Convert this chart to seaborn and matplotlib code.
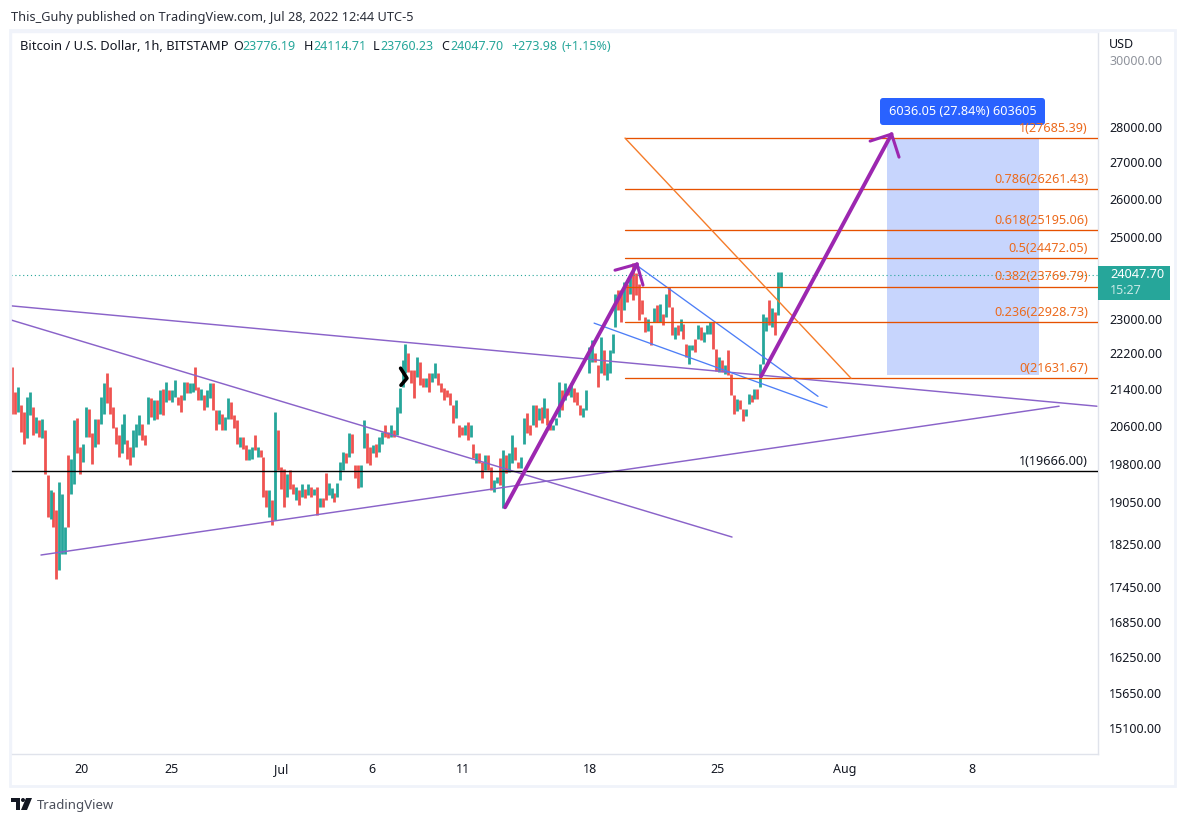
#!/usr/bin/env python3
import numpy as np
import pandas as pd
import matplotlib
matplotlib.use("Agg")
import matplotlib.pyplot as plt
import seaborn as sns
from matplotlib.patches import FancyBboxPatch, Polygon, Rectangle, Circle

# 261 bars, about one every 4 hours
highs = [
    21890, 21335, 21445, 21040, 20895, 21225, 21335, 21005, 20790, 20720,
    20755, 20510, 19580, 19280, 19250, 18885, 19445, 19215, 18570, 19990,
    19920, 20720, 20775, 20160, 20230, 21005, 20970, 20440, 20755, 20755,
    21225, 21520, 21740, 21445, 21005, 20580, 20405, 20650, 20860, 20300,
    20160, 20510, 20650, 20825, 20650, 20405, 21225, 21190, 21150, 21150,
    21370, 21405, 21555, 21370, 21370, 21590, 21225, 21265, 21555, 21555,
    21520, 21520, 21890, 21445, 21405, 21265, 21370, 21535, 21520, 20935,
    20935, 20860, 20790, 21190, 21115, 20825, 20720, 20370, 20370, 20195,
    20125, 20160, 20405, 20160, 20090, 19955, 19280, 19280, 19085, 20895,
    20510, 19750, 19715, 19610, 19680, 19415, 19350, 19280, 19415, 19315,
    19415, 19350, 19315, 19350, 19120, 19120, 19620, 19420, 19320, 19220,
    19420, 19855, 20060, 20025, 20440, 20425, 19790, 19790, 19790, 20725,
    20440, 20165, 20195, 20230, 20370, 20475, 20620, 20475, 20620, 20510,
    21010, 21410, 22040, 22405, 22190, 21815, 21815, 22115, 22005, 21630,
    21630, 21740, 21740, 21965, 21740, 21520, 21410, 21370, 21300, 21045,
    21155, 20620, 20580, 20620, 20690, 20620, 20230, 20025, 20025, 19855,
    19990, 19990, 19755, 19485, 19555, 19925, 20095, 19990, 20025, 20405,
    20165, 19855, 19955, 20760, 20865, 20620, 21045, 21045, 20975, 21010,
    21190, 20975, 20725, 20620, 20760, 21555, 21370, 21520, 21370, 21520,
    21410, 21335, 21045, 20975, 21370, 22345, 22500, 22190, 21930, 22575,
    22270, 21965, 22270, 22650, 23600, 23680, 23680, 23880, 23840, 24050,
    24340, 24090, 23840, 23435, 23035, 23000, 22840, 23240, 23320, 23355,
    23115, 23600, 23760, 23280, 22800, 22840, 23000, 22880, 22415, 22375,
    22375, 22530, 22840, 22800, 22685, 22840, 22920, 22920, 22300, 22110,
    22035, 21920, 22260, 21735, 21255, 21180, 21145, 20960, 20960, 21290,
    21255, 21400, 21400, 21960, 23115, 23035, 23435, 23240, 23160, 24130,
    24115,
]
lows = [
    20860, 20860, 20895, 20475, 20230, 20335, 20825, 20405, 20440, 20370,
    20335, 19610, 18760, 18725, 18570, 17610, 17760, 18065, 18065, 18570,
    19215, 19415, 20025, 19610, 19850, 20370, 20370, 19815, 20160, 20230,
    20650, 20860, 21080, 20860, 20545, 20230, 19955, 20025, 20230, 19920,
    19780, 19955, 20160, 20405, 20300, 20195, 20650, 20790, 20720, 20755,
    20860, 20825, 21115, 21150, 21115, 21225, 21040, 20895, 21150, 21300,
    21300, 21335, 21370, 21150, 21150, 20935, 21005, 21190, 20935, 20510,
    20650, 20510, 20510, 20755, 20755, 20545, 20230, 20160, 20125, 19885,
    19885, 19920, 20090, 19955, 19955, 19150, 18950, 18760, 18600, 18695,
    19680, 19315, 18950, 19150, 19315, 19215, 19085, 18985, 19150, 19120,
    19185, 19150, 19185, 18790, 18960, 18960, 19090, 19185, 19120, 19055,
    19155, 19485, 19690, 19820, 19955, 20025, 19520, 19320, 19350, 20130,
    19820, 19790, 20025, 19955, 20060, 20230, 20370, 20335, 20370, 20370,
    20405, 20865, 21445, 21740, 21780, 21520, 21190, 21665, 21480, 21445,
    21445, 21335, 21555, 21630, 21480, 21335, 21155, 21225, 21045, 20655,
    20760, 20370, 20405, 20405, 20300, 20370, 19925, 19820, 19820, 19520,
    19690, 19690, 19285, 19255, 19420, 19385, 18925, 19620, 19655, 19820,
    19890, 19720, 19720, 20230, 20440, 20405, 20620, 20580, 20725, 20655,
    20760, 20620, 20510, 20510, 20620, 20795, 20935, 21155, 21260, 21225,
    21115, 21045, 20830, 20780, 20935, 21740, 22005, 22005, 21445, 21740,
    21705, 21590, 21740, 22190, 22800, 23200, 22920, 23200, 23395, 23600,
    23435, 23560, 22960, 23115, 22685, 22720, 22375, 22920, 22920, 22920,
    22840, 23035, 23280, 22605, 22530, 22605, 22720, 22530, 22110, 21960,
    22260, 22220, 22530, 22490, 22450, 22645, 22645, 22300, 21805, 21770,
    21770, 21735, 21695, 21255, 20855, 20925, 20960, 20710, 20815, 21070,
    21105, 21180, 21180, 21435, 21960, 22720, 22840, 22800, 22605, 23075,
    23760,
]
# r = down bar, g = up bar
directions = (
    "rrgrrggrgr" "grrgrrgggr" "ggrrggrrgr" "ggrrrrrggr" "rgggrrgrgr"
    "grgrggrrgr" "ggrrgrggrr" "grggrrrgrr" "ggrgrrrgrg" "rrrgrrgrgr"
    "grgrgrrggr" "gggrgrrrgg" "rrgrggrrgr" "ggggrrrgrr" "grggrrrrrr"
    "grrgrgrgrr" "grrggrgrgg" "rrggrrgrgr" "grrgggrgrg" "rrrggggrrg"
    "rggggrrgrg" "rrrrrgrgrg" "rgrrgrgrrg" "grgrgggrrg" "rgrrrgrrgg"
    "rgrgggrgrg" "g"
)
first_bar_day = -14.8   # days from Jul 1
last_bar_day = 27.52

# price axis and time axis
price_ticks = [30000, 28000, 27000, 26000, 25000, 23000, 22200, 21400, 20600,
               19800, 19050, 18250, 17450, 16850, 16250, 15650, 15100]
day_ticks = [-11, -6, 0, 5, 10, 17, 24, 31, 38]
day_labels = ["20", "25", "Jul", "6", "11", "18", "25", "Aug", "8"]

# fib levels
fib_names = ["1", "0.786", "0.618", "0.5", "0.382", "0.236", "0"]
fib_prices = [27685.39, 26261.43, 25195.06, 24472.05, 23769.79, 22928.73, 21631.67]
fib_start_day = 18.93
fib_end_day = 44.96
fib_diag_days = [18.93, 31.37]
fib_diag_prices = [27685.39, 21631.67]
black_level = 19666.00
last_price = 24047.70

# drawings: days from Jul 1, prices
purple_lines = [
    ([-14.86, 24.82], [22967, 18377]),
    ([-14.86, 44.9], [23303, 21020]),
    ([-13.21, 42.82], [18041, 21020]),
]
blue_lines = [
    ([19.48, 29.55], [24323, 21234]),
    ([17.23, 30.05], [22893, 20997]),
]
arrow_shafts = [
    ([12.33, 19.59], [18947, 24323]),
    ([26.42, 33.6], [21678, 27799]),
]
arrow_heads = [
    ([18.38, 19.59, 19.92], [24172, 24323, 23803]),
    ([32.42, 33.6, 34.01], [27600, 27799, 27149]),
]
chevron_days = [6.58, 6.93, 6.60]
chevron_prices = [21857, 21633, 21478]
range_days = [33.35, 41.72]
range_prices = [21700, 27685.39]

W, H = 1186, 824
RED, TEAL = "#ef5350", "#26a69a"
TEXT = "#131722"
ORANGE = "#e65100"
FIB_TEXT = "#ec6a1c"
PURPLE = "#9c27b0"
THIN_PURPLE = "#8a63c9"
THIN_BLUE = "#4d7ef7"
FRAME = "#f0f3fa"
SEP = "#e0e3eb"


def px(x, y):
    return x / W, 1 - y / H


def draw_line(ax, xs, ys, color, width, zorder):
    sns.lineplot(x=xs, y=ys, sort=False, estimator=None, color=color,
                 linewidth=width, ax=ax, zorder=zorder, legend=False)


def main():
    sns.set_theme(style="white")
    plt.rcParams["font.family"] = ["Noto Sans", "DejaVu Sans"]

    fig = plt.figure(figsize=(W / 100, H / 100), dpi=100, facecolor="white")
    ax = fig.add_axes([11 / W, 1 - 754 / H, (1098 - 11) / W, (754 - 32) / H])
    ax.set_yscale("log")
    ax.set_xlim(-14.86, 44.96)
    ax.set_ylim(14706, 30872)

    bars = pd.DataFrame({"high": highs, "low": lows, "dir": list(directions)})
    bars["day"] = np.linspace(first_bar_day, last_bar_day, len(bars))
    for d, color in (("r", RED), ("g", TEAL)):
        part = bars[bars["dir"] == d]
        ax.vlines(part["day"], part["low"], part["high"], color=color,
                  linewidth=2.0, zorder=2)

    ax.fill_between(range_days, range_prices[0], range_prices[1],
                    color="#c7d5fd", linewidth=0, zorder=1)

    for xs, ys in purple_lines:
        draw_line(ax, xs, ys, THIN_PURPLE, 1.05, 3)
    for xs, ys in blue_lines:
        draw_line(ax, xs, ys, THIN_BLUE, 0.95, 3)

    draw_line(ax, [-14.86, 44.96], [black_level, black_level], "black", 1.0, 3)
    ax.annotate("1(19666.00)", (44.41, black_level), xytext=(0, 2.2),
                textcoords="offset points", ha="right", va="bottom",
                color=TEXT, fontsize=9.1, zorder=6)

    draw_line(ax, [-14.86, 44.96], [last_price, last_price], TEAL, 0.8, 2)
    ax.lines[-1].set_linestyle((0, (1, 2.5)))

    for name, price in zip(fib_names, fib_prices):
        draw_line(ax, [fib_start_day, fib_end_day], [price, price], ORANGE, 0.95, 3)
        ax.annotate(f"{name}({price:.2f})", (44.41, price), xytext=(0, 2.2),
                    textcoords="offset points", ha="right", va="bottom",
                    color=FIB_TEXT, fontsize=9.1, zorder=8)
    draw_line(ax, fib_diag_days, fib_diag_prices, "#f57c2a", 1.0, 3)

    for xs, ys in arrow_shafts:
        draw_line(ax, xs, ys, PURPLE, 2.8, 4)
    for xs, ys in arrow_heads:
        draw_line(ax, xs, ys, PURPLE, 2.2, 4)
    draw_line(ax, chevron_days, chevron_prices, "black", 2.6, 5)

    # axes, ticks
    ax.yaxis.tick_right()
    ax.set_yticks(price_ticks)
    ax.set_yticklabels([f"{p:.2f}" for p in price_ticks])
    ax.yaxis.set_minor_locator(matplotlib.ticker.NullLocator())
    ax.set_xticks(day_ticks)
    ax.set_xticklabels(day_labels)
    ax.tick_params(axis="y", length=0, pad=8, labelsize=9, labelcolor=TEXT)
    ax.tick_params(axis="x", length=0, pad=6.5, labelsize=9, labelcolor=TEXT)
    ax.get_yticklabels()[0].set_color("#8f939c")
    ax.grid(False)
    ax.set_xlabel("")
    ax.set_ylabel("")
    for side, color in (("left", FRAME), ("top", FRAME), ("right", SEP), ("bottom", SEP)):
        ax.spines[side].set_color(color)
        ax.spines[side].set_linewidth(1.0)

    # outer frame of the published image
    x0, y0 = px(10, 786)
    x1, y1 = px(1175, 30)
    fig.add_artist(Rectangle((x0, y0), x1 - x0, y1 - y0, transform=fig.transFigure,
                             fill=False, edgecolor=FRAME, linewidth=2, zorder=10))

    # header
    fig.text(*px(11, 17), "This_Guhy published on TradingView.com, Jul 28, 2022 12:44 UTC-5",
             fontsize=9.2, color="#2a2e39", va="center")
    fig.text(*px(20, 47), "Bitcoin / U.S. Dollar, 1h, BITSTAMP", fontsize=9.35,
             color=TEXT, va="center")
    header = [
        (233, "O", TEXT), (242, "23776.19", TEAL),
        (304, "H", TEXT), (313, "24114.71", TEAL),
        (373, "L", TEXT), (380, "23760.23", TEAL),
        (441, "C", TEXT), (450, "24047.70", TEAL),
        (511, "+273.98", TEAL), (562, "(+1.15%)", TEAL),
    ]
    for x, label, color in header:
        fig.text(*px(x, 47), label, fontsize=9, color=color, va="center")
    fig.text(*px(1109, 44), "USD", fontsize=9, color=TEXT, va="center")

    # last price tag
    tag_x, tag_y = px(1098, 300)
    tag_x1, tag_y1 = px(1170, 266)
    fig.add_artist(Rectangle((tag_x, tag_y), tag_x1 - tag_x, tag_y1 - tag_y,
                             transform=fig.transFigure, color=TEAL, linewidth=0, zorder=11))
    fig.text(*px(1110, 275), "24047.70", fontsize=9.2, color="white", va="center",
             fontweight="bold", zorder=12)
    fig.text(*px(1110, 290), "15:27", fontsize=9, color="#c9e9e6", va="center", zorder=12)

    # position label, below the fib text
    box = FancyBboxPatch((883, H - 122), 159, 21, boxstyle="round,pad=3,rounding_size=3",
                         facecolor="#2962ff", edgecolor="none", transform=None, zorder=7,
                         clip_on=False)
    ax.add_artist(box)
    ax.text(*px(962.5, 111.5), "6036.05 (27.84%) 603605", fontsize=9.1, color="white",
            ha="center", va="center", fontweight="bold", zorder=9, transform=fig.transFigure)

    # footer logo
    logo = [
        [(11, 798), (20, 798), (20, 810), (16, 810), (16, 802), (11, 802)],
        [(26, 798), (32, 798), (27, 810), (21, 810)],
    ]
    for shape in logo:
        fig.add_artist(Polygon([px(*p) for p in shape], closed=True, facecolor="#131722",
                               edgecolor="none", transform=fig.transFigure, zorder=11))
    fig.add_artist(Circle((23, H - 800), 2, facecolor="#131722", edgecolor="none",
                          transform=None, zorder=11))
    fig.text(*px(37, 805.5), "TradingView", fontsize=9.5, color="#4a4e5a", va="center")

    fig.savefig("out.png", dpi=100)
    plt.close(fig)


if __name__ == "__main__":
    main()
